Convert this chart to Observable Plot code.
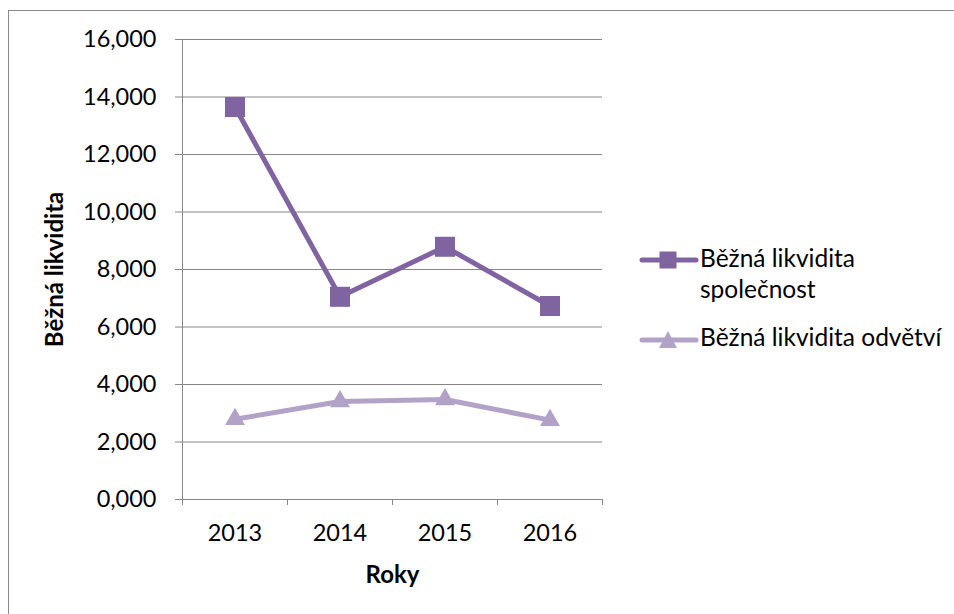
<!DOCTYPE html>
<html>
<head>
<meta charset="utf-8">
<script src="https://cdn.jsdelivr.net/npm/d3@7"></script>
<script src="https://cdn.jsdelivr.net/npm/@observablehq/plot@0.6"></script>
<style>
  html, body { margin: 0; padding: 0; background: #fff; overflow: hidden; }
  #wrap { position: relative; width: 954px; height: 614px; font-family: Lato, sans-serif; }
  #border { position: absolute; left: 8px; top: 10px; width: 1000px; height: 700px; border: 1px solid #8a8a8a; pointer-events: none; }
  .leg { position: absolute; font-size: 24.5px; line-height: 31px; color: #000; white-space: nowrap; }
  .sw { position: absolute; }
</style>
</head>
<body>
<div id="wrap"><div id="border"></div></div>
<script>
const years = [2013, 2014, 2015, 2016];
const company = [13.65, 7.05, 8.79, 6.73];
const industry = [2.79, 3.41, 3.48, 2.76];
const yTicks = [0, 2, 4, 6, 8, 10, 12, 14, 16];
const xBounds = [2012.5, 2013.5, 2014.5, 2015.5, 2016.5];
const seriesNames = ["Běžná likvidita společnost", "Běžná likvidita odvětví"];
const colors = ["#8064A2", "#B3A2C7"];
const yTitle = "Běžná likvidita";
const xTitle = "Roky";

const rowsA = years.map((y, i) => ({year: y, value: company[i]}));
const rowsB = years.map((y, i) => ({year: y, value: industry[i]}));
const fmt = d => d.toFixed(3).replace(".", ",");
const grid = "#868686";

const chart = Plot.plot({
  width: 954,
  height: 614,
  marginLeft: 182,
  marginRight: 352,
  marginTop: 39,
  marginBottom: 115,
  style: {fontFamily: "Lato, sans-serif", fontSize: "23.5px", color: "#000", background: "transparent"},
  x: {type: "linear", domain: [2012.5, 2016.5]},
  y: {domain: [0, 16]},
  marks: [
    Plot.gridY(yTicks, {stroke: grid, strokeOpacity: 1}),
    Plot.axisY({ticks: yTicks, tickSize: 7, tickPadding: 19, tickFormat: fmt, stroke: grid, label: null}),
    Plot.axisX({ticks: xBounds, tickSize: 6, tickFormat: () => "", stroke: grid, label: null}),
    Plot.axisX({ticks: years, tickSize: 0, tickPadding: 25, tickFormat: d => String(d), label: null}),
    Plot.ruleX([2012.5], {stroke: grid}),
    Plot.ruleY([0], {stroke: grid, insetLeft: -7}),
    Plot.line(rowsA, {x: "year", y: "value", stroke: colors[0], strokeWidth: 5}),
    Plot.line(rowsB, {x: "year", y: "value", stroke: colors[1], strokeWidth: 5}),
    Plot.dot(rowsA, {x: "year", y: "value", symbol: "square", r: 11.3, fill: colors[0], stroke: "none"}),
    Plot.dot(rowsB, {x: "year", y: "value", symbol: "triangle", r: 7.4, fill: colors[1], stroke: "none"}),
    Plot.text([yTitle], {frameAnchor: "left", textAnchor: "middle", lineAnchor: "middle", dx: -127, rotate: -90, fontWeight: "bold", fontSize: 24, fill: "#000"}),
    Plot.text([xTitle], {frameAnchor: "bottom", textAnchor: "middle", lineAnchor: "middle", dy: 76, fontWeight: "bold", fontSize: 24, fill: "#000"})
  ]
});
chart.style.position = "absolute";
chart.style.left = "0px";
chart.style.top = "0px";
const wrap = document.getElementById("wrap");
wrap.insertBefore(chart, wrap.firstChild);

// Legend
function swatch(color, shape, top) {
  const ns = "http://www.w3.org/2000/svg";
  const s = document.createElementNS(ns, "svg");
  s.setAttribute("width", 60); s.setAttribute("height", 24);
  s.setAttribute("class", "sw");
  s.style.left = "639px"; s.style.top = top + "px";
  const l = document.createElementNS(ns, "line");
  l.setAttribute("x1", 3); l.setAttribute("x2", 57); l.setAttribute("y1", 12); l.setAttribute("y2", 12);
  l.setAttribute("stroke", color); l.setAttribute("stroke-width", 5); l.setAttribute("stroke-linecap", "round");
  s.appendChild(l);
  if (shape === "square") {
    const r = document.createElementNS(ns, "rect");
    r.setAttribute("x", 20.5); r.setAttribute("y", 3.5); r.setAttribute("width", 17); r.setAttribute("height", 17);
    r.setAttribute("fill", color); s.appendChild(r);
  } else {
    const p = document.createElementNS(ns, "path");
    p.setAttribute("d", "M29,3 L38,20 L20,20 Z");
    p.setAttribute("fill", color); s.appendChild(p);
  }
  wrap.appendChild(s);
}
function legText(txt, top) {
  const d = document.createElement("div");
  d.className = "leg";
  d.style.left = "700px"; d.style.top = top + "px";
  d.innerHTML = txt;
  wrap.appendChild(d);
}
swatch(colors[0], "square", 248);
legText(seriesNames[0].replace(" společnost", "<br>společnost"), 242);
swatch(colors[1], "triangle", 328);
legText(seriesNames[1], 321);
</script>
</body>
</html>
